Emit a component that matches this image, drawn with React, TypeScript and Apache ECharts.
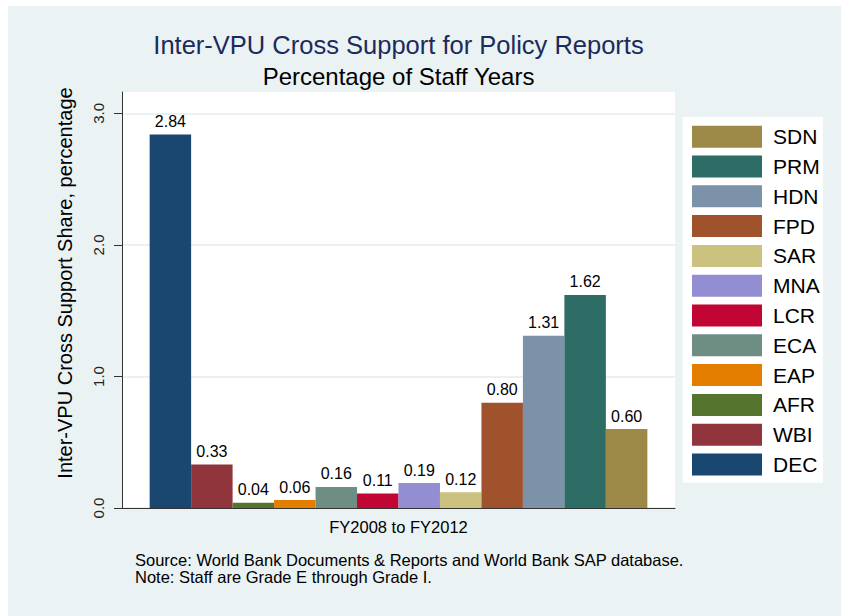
import React, { useEffect, useRef } from "react";
import * as echarts from "echarts";

const categories = ["FY2008 to FY2012"];
const seriesNames = ["DEC", "WBI", "AFR", "EAP", "ECA", "LCR", "MNA", "SAR", "FPD", "HDN", "PRM", "SDN"];
const seriesValues = [2.84, 0.33, 0.04, 0.06, 0.16, 0.11, 0.19, 0.12, 0.8, 1.31, 1.62, 0.6];
const seriesColors = ["#1A476F", "#90353B", "#55752F", "#E37E00", "#6E8E84", "#C10534", "#938DD2", "#CAC27E", "#A0522D", "#7B92A8", "#2D6D66", "#9C8847"];
const yTicks = [0, 1, 2, 3];
const legendOrder = ["SDN", "PRM", "HDN", "FPD", "SAR", "MNA", "LCR", "ECA", "EAP", "AFR", "WBI", "DEC"];
const noteLines = [
  "Source: World Bank Documents & Reports and World Bank SAP database.",
  "Note: Staff are Grade E through Grade I.",
];

const FONT = "'Liberation Sans', Arial, Helvetica, sans-serif";

export default function App() {
  const ref = useRef<HTMLDivElement>(null);
  useEffect(() => {
    if (!ref.current) return;
    const chart = echarts.init(ref.current, null, { renderer: "svg" });
    const series = seriesNames.map((name, i) => ({
      name,
      type: "bar",
      data: [seriesValues[i]],
      barGap: "0%",
      barCategoryGap: "10%",
      itemStyle: { color: seriesColors[i] },
      label: {
        show: true,
        position: "top",
        distance: 5,
        fontSize: 16,
        fontFamily: FONT,
        color: "#000",
        formatter: (p: any) => Number(p.value).toFixed(2),
      },
    }));
    chart.setOption({
      animation: false,
      backgroundColor: "#EAF2F3",
      textStyle: { fontFamily: FONT },
      grid: {
        left: 114,
        top: 86,
        right: 166,
        bottom: 108,
        show: true,
        backgroundColor: "#ffffff",
        borderWidth: 0,
        containLabel: false,
      },
      xAxis: {
        type: "category",
        data: categories,
        axisLine: { show: true, lineStyle: { color: "#333", width: 1 } },
        axisTick: { show: false },
        axisLabel: { fontSize: 16.5, color: "#000", margin: 10, fontFamily: FONT },
      },
      yAxis: {
        type: "value",
        min: 0,
        max: 3.163,
        interval: 1,
        axisLine: { show: true, lineStyle: { color: "#333", width: 1 } },
        axisTick: { show: true, length: 8, lineStyle: { color: "#333" }, customValues: yTicks },
        axisLabel: {
          rotate: 90,
          fontSize: 15,
          color: "#222",
          margin: 16,
          fontFamily: FONT,
          customValues: yTicks,
          formatter: (v: number) => v.toFixed(1),
        },
        splitLine: { show: true, lineStyle: { color: "#E3ECEE", width: 1.5 } },
      },
      legend: {
        data: legendOrder,
        orient: "vertical",
        left: 684,
        top: 119.7,
        itemWidth: 70,
        itemHeight: 22,
        itemGap: 7.8,
        icon: "rect",
        selectedMode: false,
        padding: 0,
        textStyle: { fontSize: 21, color: "#000", fontFamily: FONT, padding: [0, 0, 0, 6] },
      },
      graphic: [
        {
          type: "rect",
          z: 1,
          shape: { x: 674.7, y: 111, width: 140.3, height: 365.7 },
          style: { fill: "#ffffff" },
        },
        {
          type: "text",
          x: 390.5,
          y: 38.5,
          style: {
            text: "Inter-VPU Cross Support for Policy Reports",
            fontSize: 25.5,
            fontFamily: FONT,
            fill: "#1C2A5C",
            align: "center",
            verticalAlign: "middle",
          },
        },
        {
          type: "text",
          x: 390.5,
          y: 70,
          style: {
            text: "Percentage of Staff Years",
            fontSize: 24,
            fontFamily: FONT,
            fill: "#000",
            align: "center",
            verticalAlign: "middle",
          },
        },
        {
          type: "text",
          x: 56.5,
          y: 277,
          rotation: Math.PI / 2,
          style: {
            text: "Inter-VPU Cross Support Share, percentage",
            fontSize: 20,
            fontFamily: FONT,
            fill: "#000",
            align: "center",
            verticalAlign: "middle",
          },
        },
        {
          type: "text",
          x: 127,
          y: 554,
          style: {
            text: noteLines[0],
            fontSize: 16.5,
            fontFamily: FONT,
            fill: "#000",
            align: "left",
            verticalAlign: "middle",
          },
        },
        {
          type: "text",
          x: 127,
          y: 571,
          style: {
            text: noteLines[1],
            fontSize: 16.5,
            fontFamily: FONT,
            fill: "#000",
            align: "left",
            verticalAlign: "middle",
          },
        },
      ],
      series,
    });
    return () => chart.dispose();
  }, []);
  return (
    <div
      ref={ref}
      style={{ position: "absolute", left: 8, top: 6, width: 833, height: 610 }}
    />
  );
}
